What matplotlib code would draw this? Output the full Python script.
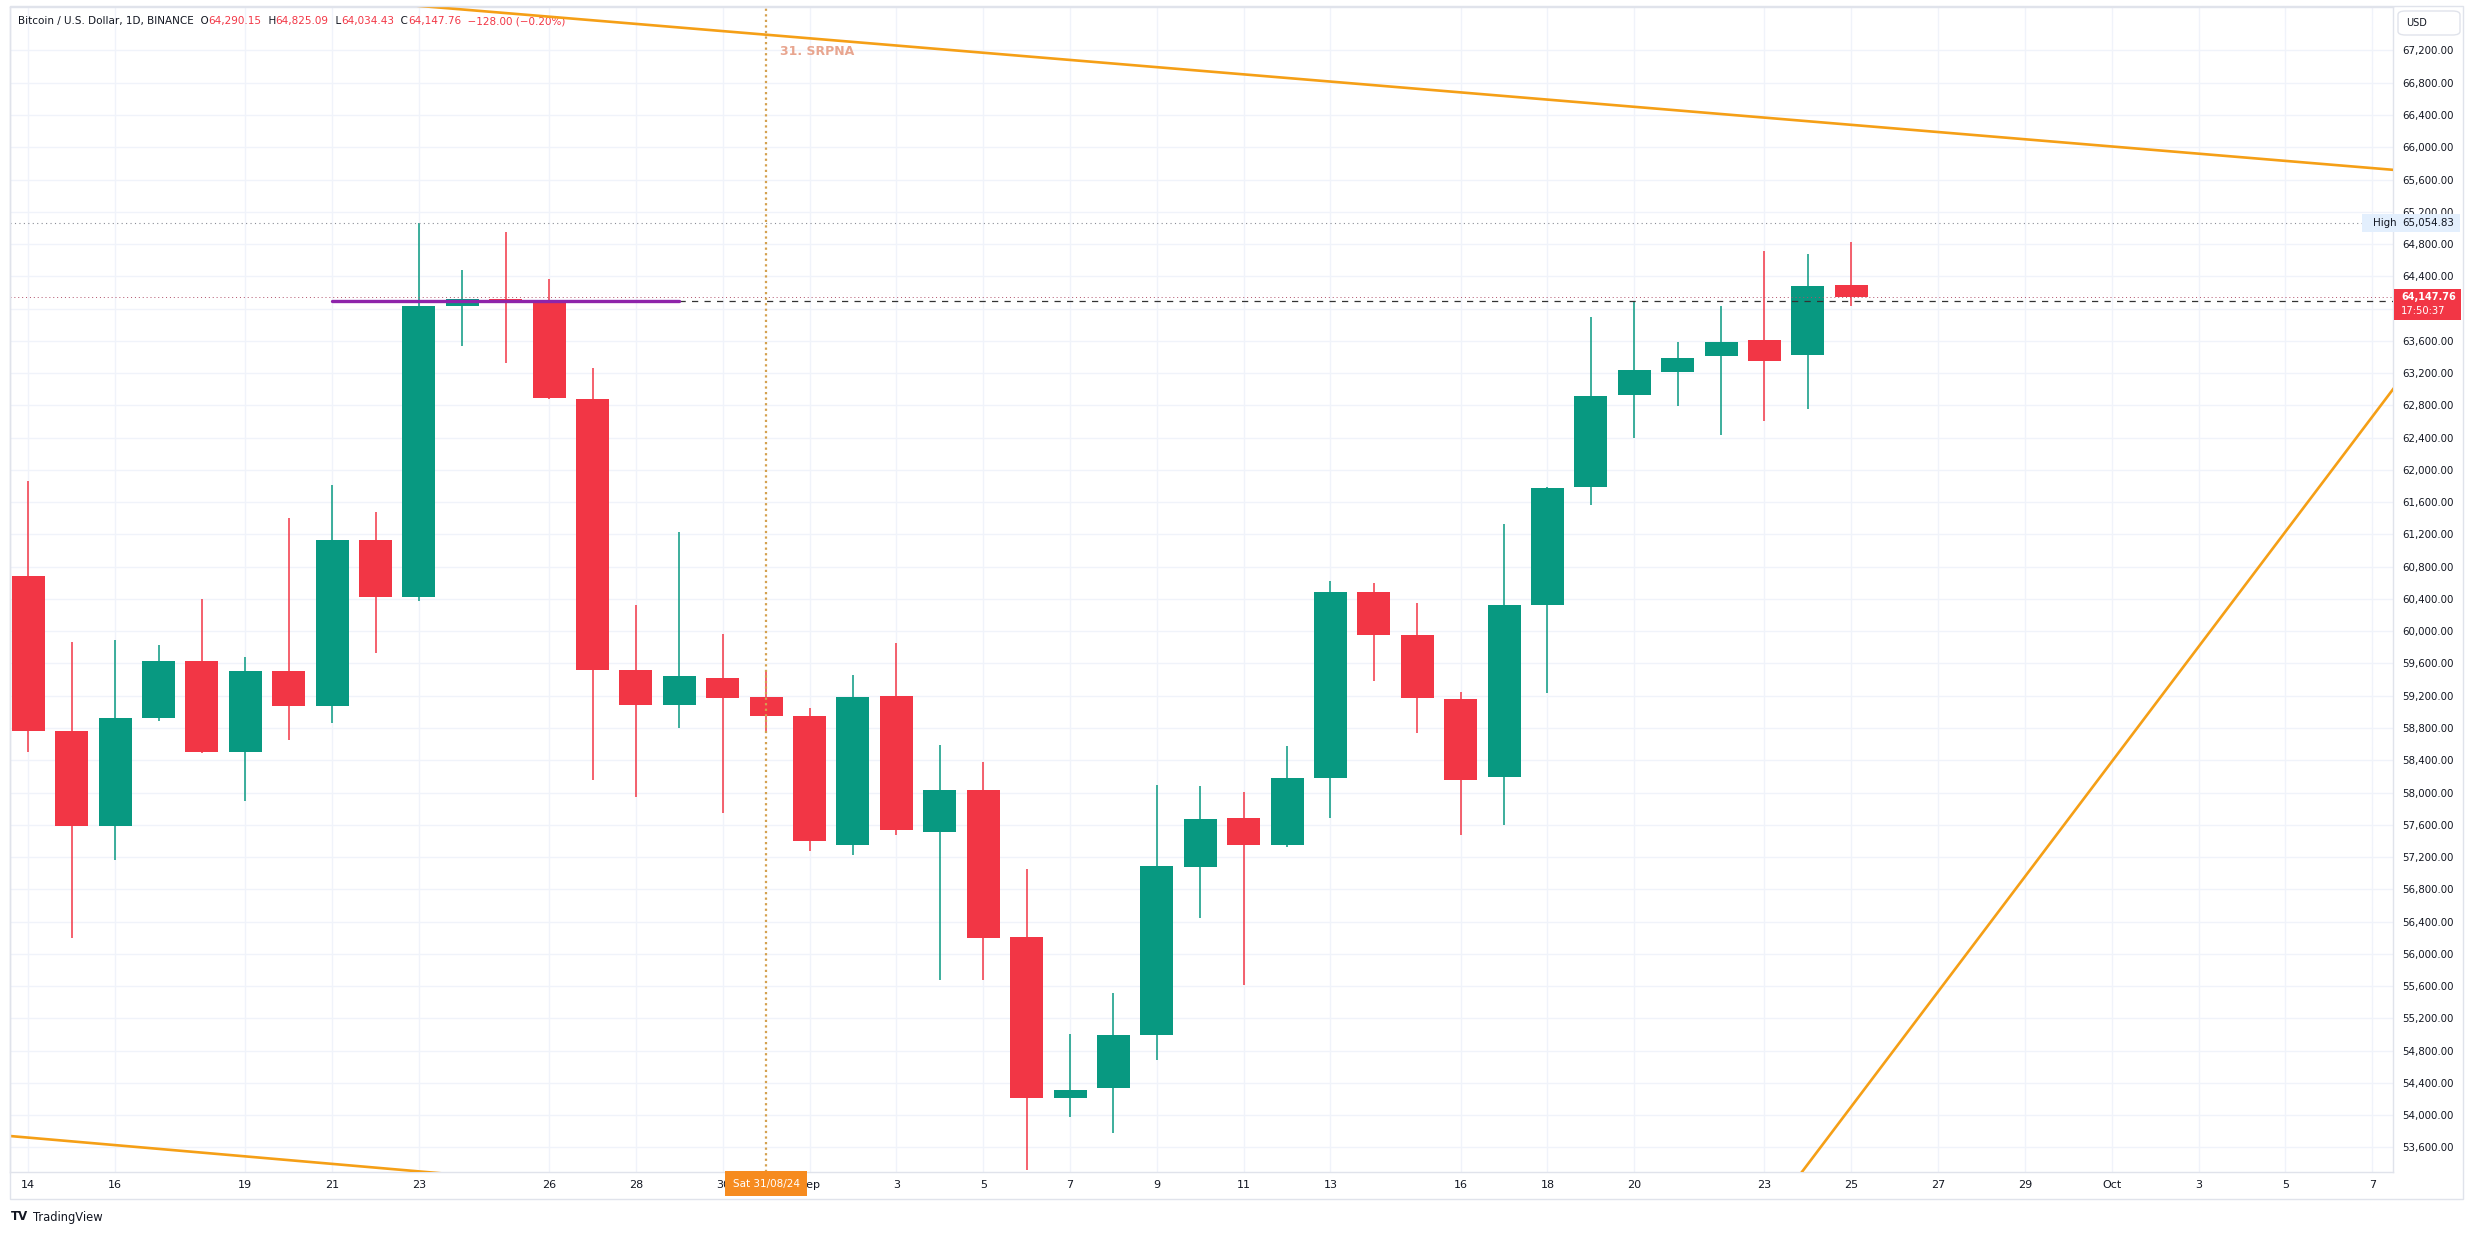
import matplotlib
matplotlib.use('Agg')
import numpy as np
import pandas as pd
from matplotlib import pyplot as plt
from matplotlib import transforms
from matplotlib.patches import Rectangle, FancyBboxPatch

# ---- data (BTC/USD 1D, Binance) ----
dates = pd.date_range('2024-08-14', '2024-09-25', freq='D')

opens = [60687, 58757, 57587, 58927, 59633, 58501, 59509, 59067, 61129, 60423,
         64035, 64120, 64080, 62880, 59517, 59090, 59420, 59183, 58951, 57354,
         59199, 57509, 58029, 56207, 54208, 54332, 54998, 57075, 57688, 57354,
         58176, 60485, 59951, 59160, 58191, 60330, 61787, 62934, 63213, 63407,
         63609, 63422, 64290.15]
highs = [61865, 59865, 59889, 59827, 60400, 59679, 61408, 61810, 61477, 65054.83,
         64477, 64949, 64368, 63268, 60322, 61229, 59966, 59509, 59044, 59455,
         59857, 58586, 58377, 57052, 55006, 55518, 58091, 58083, 58005, 58579,
         60625, 60602, 60354, 59245, 61330, 61790, 63895, 64097, 63585, 64035,
         64717, 64678, 64825.09]
lows = [58501, 56192, 57168, 58881, 58495, 57889, 58649, 58858, 59726, 60380,
        63539, 63330, 62880, 58160, 57943, 58796, 57750, 58757, 57277, 57222,
        57470, 55673, 55673, 53324, 53975, 53774, 54680, 56440, 55611, 57330,
        57688, 59377, 58742, 57478, 57602, 59230, 61570, 62392, 62787, 62431,
        62601, 62756, 64034.43]
closes = [58757, 57587, 58927, 59633, 58501, 59509, 59067, 61129, 60423, 64035,
          64120, 64080, 62896, 59517, 59090, 59447, 59168, 58943, 57393, 59183,
          57532, 58029, 56192, 54208, 54309, 54991, 57091, 57672, 57354, 58183,
          60485, 59951, 59168, 58160, 60323, 61780, 62919, 63237, 63392, 63585,
          63345, 64283, 64147.76]

tick_dates = ['2024-08-14', '2024-08-16', '2024-08-19', '2024-08-21', '2024-08-23',
              '2024-08-26', '2024-08-28', '2024-08-30', '2024-09-01', '2024-09-03',
              '2024-09-05', '2024-09-07', '2024-09-09', '2024-09-11', '2024-09-13',
              '2024-09-16', '2024-09-18', '2024-09-20', '2024-09-23', '2024-09-25',
              '2024-09-27', '2024-09-29', '2024-10-01', '2024-10-03', '2024-10-05',
              '2024-10-07']
tick_labels = ['14', '16', '19', '21', '23', '26', '28', '30', 'Sep', '3', '5', '7', '9',
               '11', '13', '16', '18', '20', '23', '25', '27', '29', 'Oct', '3', '5', '7']
price_ticks = list(range(53600, 67201, 400))
hidden_price_ticks = [64000]   # covered by the last-price tag in TradingView

# drawings (day offset from first candle, price)
upper_line_x, upper_line_y = [-1, 55], [68200, 65697]
lower_line_x, lower_line_y = [-1, 10], [53768, 53256]
rise_line_x, rise_line_y = [40, 55], [52681, 63370]
level_x, level_price = [7, 15], 64100
marker_day = 17           # Sat 31/08/24
high_price = 65054.83
last_price = 64147.76

GREEN = '#089981'
RED = '#f23645'
ORANGE = '#f59f16'
DARK = '#131722'

W, H = 2475, 1235
fig = plt.figure(figsize=(W / 100, H / 100), dpi=100)
fig.patch.set_facecolor('white')

ax_l, ax_r, ax_t, ax_b = 10, 2393, 7, 1172
ax = fig.add_axes([ax_l / W, 1 - ax_b / H, (ax_r - ax_l) / W, (ax_b - ax_t) / H])

x = np.array((dates - dates[0]).days, dtype=float)
o, h, l, c = map(np.array, (opens, highs, lows, closes))
cols = [GREEN if cc >= oo else RED for oo, cc in zip(o, c)]

# candles
ax.vlines(x, l, h, colors=cols, lw=1.1, zorder=3)
ax.bar(x, np.maximum(np.abs(c - o), 14), bottom=np.minimum(o, c), width=0.76,
       color=cols, edgecolor='none', zorder=3.1)

# trend lines
ax.plot(upper_line_x, upper_line_y, color=ORANGE, lw=1.9, zorder=4, solid_capstyle='round')
ax.plot(lower_line_x, lower_line_y, color=ORANGE, lw=1.9, zorder=4, solid_capstyle='round')
ax.plot(rise_line_x, rise_line_y, color=ORANGE, lw=1.9, zorder=4, solid_capstyle='round')

# horizontal level + ray
ax.plot(level_x, [level_price] * 2, color='#8e24aa', lw=2.4, zorder=5, solid_capstyle='round')
ax.plot([level_x[1], 60], [level_price] * 2, color='#333333', lw=0.9,
        linestyle=(0, (5, 5)), zorder=4.5)

# high / last price lines
ax.axhline(high_price, color='#8a8d96', lw=0.8, linestyle=(0, (1, 3)), zorder=4)
ax.axhline(last_price, color='#b0506a', lw=0.7, linestyle=(0, (1, 3)), zorder=4)

# vertical date marker
ax.axvline(marker_day, color='#d4a14f', lw=1.6, linestyle=(0, (1, 1.5)), zorder=4)
blend = transforms.blended_transform_factory(ax.transData, ax.transAxes)
ax.annotate('31. SRPNA', xy=(marker_day, 0.962), xycoords=blend, xytext=(10, 0),
            textcoords='offset points', va='center', ha='left', fontsize=9,
            fontweight='bold', color='#e8a58f', zorder=6)
ax.text(marker_day, -0.0099, 'Sat 31/08/24', transform=blend, ha='center', va='center',
        fontsize=7.5, color='white', clip_on=False, zorder=10,
        bbox=dict(boxstyle='square,pad=0.75', fc='#f68b1f', ec='none'))

# axes styling
ax.set_xlim(-0.4216, 54.48)
ax.set_ylim(53295, 67739)
ax.set_xticks([(pd.Timestamp(d) - dates[0]).days for d in tick_dates])
ax.set_xticklabels(tick_labels)
ax.set_yticks(price_ticks)
ax.set_yticklabels(['' if p in hidden_price_ticks else f'{p:,.2f}' for p in price_ticks])
ax.yaxis.tick_right()
ax.tick_params(axis='y', length=0, pad=6.5, labelsize=7.4, labelcolor=DARK)
ax.tick_params(axis='x', length=0, pad=5.5, labelsize=8, labelcolor=DARK)
ax.grid(True, color='#f0f3fa', lw=1)
ax.set_axisbelow(True)
for sp in ax.spines.values():
    sp.set_color('#e0e3eb')
    sp.set_linewidth(1)

# outer widget frame
fig.add_artist(Rectangle((10 / W, 1 - 1199 / H), (2463 - 10) / W, (1199 - 6) / H,
                         transform=fig.transFigure, fill=False, ec='#e0e3eb', lw=1))


def py(price):
    return ax.transData.transform((0, price))[1] / H


# USD box
fig.add_artist(FancyBboxPatch((2398 / W, 1 - 35 / H), 62 / W, 24 / H,
                              boxstyle='round,pad=0,rounding_size=0.003',
                              transform=fig.transFigure, fc='white', ec='#e0e3eb', lw=1))
fig.text(2406 / W, 1 - 23 / H, 'USD', fontsize=7, color=DARK, va='center', ha='left')

# High label
yh = py(high_price)
fig.add_artist(Rectangle((2362 / W, yh - 9 / H), 98 / W, 18 / H, transform=fig.transFigure,
                         fc='#e3effd', ec='none', zorder=5))
fig.text(2373 / W, yh, 'High', fontsize=7.4, color=DARK, va='center', ha='left', zorder=6)
fig.text(2402 / W, yh, f'{high_price:,.2f}', fontsize=7.4, color=DARK, va='center',
         ha='left', zorder=6)

# last price label
yl = py(last_price)
fig.add_artist(Rectangle((2394 / W, yl - 23 / H), 67 / W, 31 / H, transform=fig.transFigure,
                         fc=RED, ec='none', zorder=5))
fig.text(2401 / W, yl, f'{last_price:,.2f}', fontsize=7.0, color='white', fontweight='bold',
         va='center', ha='left', zorder=6)
fig.text(2401 / W, yl - 14 / H, '17:50:37', fontsize=7.2, color='white', va='center',
         ha='left', zorder=6)

# header legend
segs = [('Bitcoin / U.S. Dollar, 1D, BINANCE', DARK), ('  O', DARK), ('64,290.15', RED),
        ('  H', DARK), ('64,825.09', RED), ('  L', DARK), ('64,034.43', RED),
        ('  C', DARK), ('64,147.76', RED), ('  −128.00 (−0.20%)', RED)]
t = fig.text(18 / W, 1 - 21 / H, segs[0][0], fontsize=7.5, color=segs[0][1], va='center')
for s, col in segs[1:]:
    t = ax.annotate(s, xy=(1, 0.5), xycoords=t, va='center', ha='left', fontsize=7.5,
                    color=col, annotation_clip=False)

# footer logo
fig.text(11 / W, 1 - 1217 / H, 'TV', fontsize=8.5, fontweight='bold', color=DARK, va='center')
fig.text(33 / W, 1 - 1217 / H, 'TradingView', fontsize=8.3, color=DARK, va='center')

fig.savefig('out.png', dpi=100, facecolor='white')
